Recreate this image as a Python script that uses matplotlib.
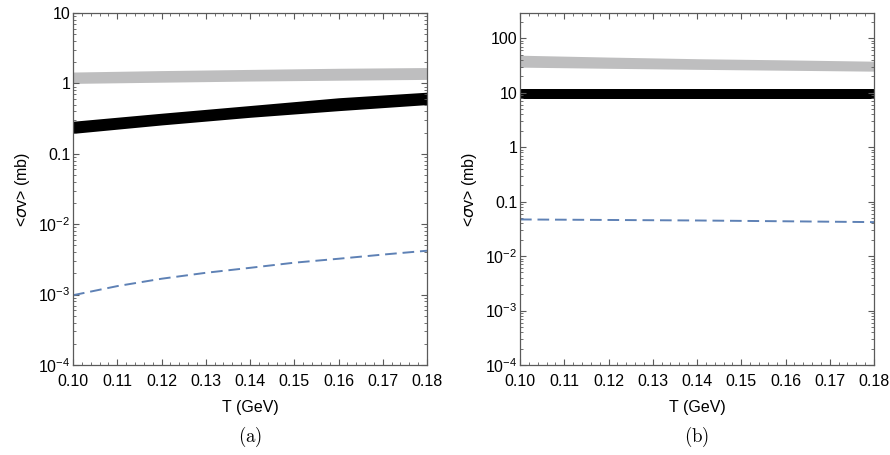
import numpy as np
import matplotlib
matplotlib.use('Agg')
import matplotlib.pyplot as plt
from matplotlib.ticker import LogLocator, MultipleLocator, FixedLocator, NullFormatter

plt.rcParams['font.family'] = ['Liberation Sans', 'DejaVu Sans']
plt.rcParams['mathtext.fontset'] = 'custom'
plt.rcParams['mathtext.it'] = 'Liberation Sans:italic'
plt.rcParams['mathtext.rm'] = 'Liberation Sans'

# temperature grids (GeV)
T = [0.10, 0.12, 0.14, 0.16, 0.18]
T_fine = [0.10, 0.11, 0.12, 0.13, 0.14, 0.15, 0.16, 0.17, 0.18]

# panel (a)
a_gray_lo = [1.00, 1.04, 1.08, 1.11, 1.14]
a_gray_hi = [1.45, 1.52, 1.58, 1.64, 1.68]
a_black_lo = [0.195, 0.257, 0.33, 0.41, 0.50]
a_black_hi = [0.29, 0.377, 0.485, 0.625, 0.75]
a_dashed = [0.00098, 0.00132, 0.00168, 0.00204, 0.0024, 0.00284, 0.00323, 0.0037, 0.0042]

# panel (b)
b_gray_lo = [29.4, 28.0, 26.8, 25.8, 24.8]
b_gray_hi = [48.7, 45.0, 42.0, 40.0, 37.8]
b_black_lo = [7.5, 7.5, 7.5, 7.5, 7.5]
b_black_hi = [11.5, 11.5, 11.5, 11.5, 11.5]
b_dashed = [0.047, 0.046, 0.045, 0.0435, 0.042]

x_ticks = [0.10, 0.11, 0.12, 0.13, 0.14, 0.15, 0.16, 0.17, 0.18]
x_labels = ['0.10', '0.11', '0.12', '0.13', '0.14', '0.15', '0.16', '0.17', '0.18']

GRAY = '#bebebf'
BLUE = '#5e81b5'
FRAME = '#5a5a5a'


def style_axes(ax, ymax, yticks, ylabels):
    ax.set_yscale('log')
    ax.set_xlim(0.10, 0.18)
    ax.set_ylim(1e-4, ymax)
    ax.xaxis.set_major_locator(FixedLocator(x_ticks))
    ax.set_xticklabels(x_labels)
    ax.xaxis.set_minor_locator(MultipleLocator(0.002))
    ax.yaxis.set_major_locator(FixedLocator(yticks))
    ax.set_yticklabels(ylabels)
    ax.yaxis.set_minor_locator(LogLocator(base=10, subs=np.arange(2, 10), numticks=20))
    ax.yaxis.set_minor_formatter(NullFormatter())
    ax.tick_params(which='both', direction='in', top=True, right=True,
                   color=FRAME, labelsize=11.5)
    ax.tick_params(axis='x', pad=6.5)
    ax.tick_params(axis='y', pad=2)
    ax.tick_params(which='major', length=4, width=0.8)
    ax.tick_params(which='minor', length=2, width=0.6)
    for s in ax.spines.values():
        s.set_color(FRAME)
        s.set_linewidth(0.9)
    ax.set_xlabel('T (GeV)', fontsize=11.5, labelpad=8)
    ax.set_ylabel(r'<$\sigma$v> (mb)', fontsize=11.5, labelpad=4,
                  math_fontfamily='dejavusans')


fig = plt.figure(figsize=(8.9, 4.55), dpi=100)
ax1 = fig.add_axes([73 / 890, 1 - 365 / 455, 354 / 890, 352 / 455])
ax2 = fig.add_axes([520 / 890, 1 - 365 / 455, 354 / 890, 352 / 455])

ax1.fill_between(T, a_gray_lo, a_gray_hi, color=GRAY, lw=0)
ax1.fill_between(T, a_black_lo, a_black_hi, color='black', lw=0)
ax1.plot(T_fine, a_dashed, color=BLUE, lw=1.4, dashes=(6, 3))
style_axes(ax1, 10,
           [1e-4, 1e-3, 1e-2, 0.1, 1, 10],
           [r'$10^{-4}$', r'$10^{-3}$', r'$10^{-2}$', '0.1', '1', '10'])

ax2.fill_between(T, b_gray_lo, b_gray_hi, color=GRAY, lw=0)
ax2.fill_between(T, b_black_lo, b_black_hi, color='black', lw=0)
ax2.plot(T, b_dashed, color=BLUE, lw=1.4, dashes=(6, 3))
style_axes(ax2, 290,
           [1e-4, 1e-3, 1e-2, 0.1, 1, 10, 100],
           [r'$10^{-4}$', r'$10^{-3}$', r'$10^{-2}$', '0.1', '1', '10', '100'])

# subfigure captions in Computer Modern
fig.text(250 / 890, 1 - 437 / 455, r'$\mathrm{(a)}$', ha='center', va='center',
         fontsize=13.5, math_fontfamily='cm')
fig.text(697 / 890, 1 - 437 / 455, r'$\mathrm{(b)}$', ha='center', va='center',
         fontsize=13.5, math_fontfamily='cm')

fig.savefig('out.png', dpi=100)
